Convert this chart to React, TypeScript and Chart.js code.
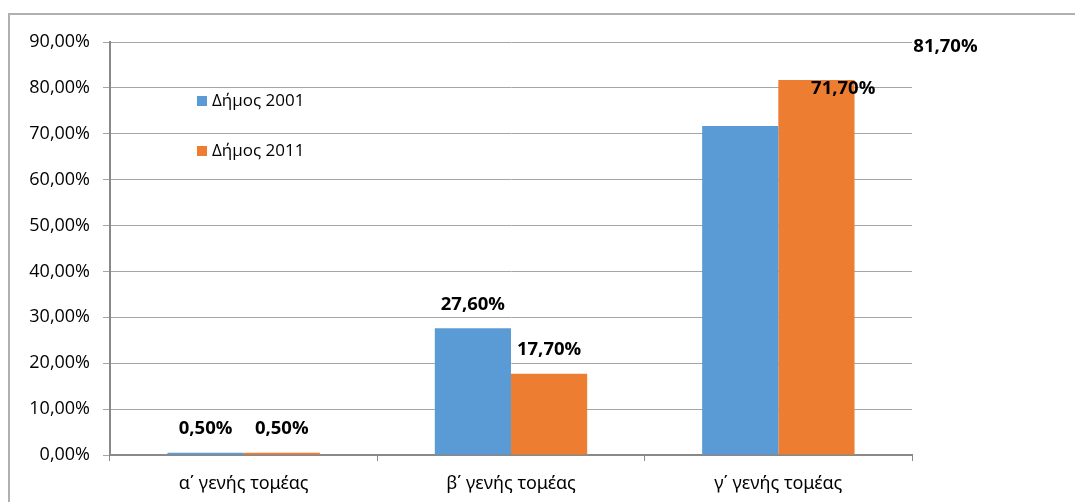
import React, { useEffect, useRef } from "react";
import { Chart, registerables } from "chart.js";

Chart.register(...registerables);

const categories = ["α΄ γενής τομέας", "β΄ γενής τομέας", "γ΄ γενής τομέας"];
const seriesNames = ["Δήμος 2001", "Δήμος 2011"];
const values2001 = [0.5, 27.6, 71.7];
const values2011 = [0.5, 17.7, 81.7];
const yTicks = [0, 10, 20, 30, 40, 50, 60, 70, 80, 90];

const colors = ["#5B9BD5", "#ED7D31"];
const FONT = "'Open Sans', 'Noto Sans', sans-serif";
const XFONT = "'Noto Sans', sans-serif";

const fmt = (v: number) => v.toFixed(2).replace(".", ",") + "%";

// label displacement (Excel manually moved labels) per dataset/index
const labelShift: Record<string, [number, number]> = {
  "0-2": [103, -13],
  "1-2": [129, -9],
};

const dataLabelsPlugin = {
  id: "dataLabels",
  afterDatasetsDraw(chart: any) {
    const ctx = chart.ctx;
    ctx.save();
    ctx.font = `bold 18.5px ${FONT}`;
    ctx.fillStyle = "#000";
    ctx.textAlign = "center";
    ctx.textBaseline = "middle";
    chart.data.datasets.forEach((ds: any, di: number) => {
      const meta = chart.getDatasetMeta(di);
      meta.data.forEach((bar: any, i: number) => {
        const sh = labelShift[`${di}-${i}`] || [0, 0];
        ctx.fillText(fmt(ds.data[i]), bar.x + sh[0], bar.y - 24 + sh[1]);
      });
    });
    ctx.restore();
  },
};

const legendPlugin = {
  id: "insideLegend",
  afterDraw(chart: any) {
    const ctx = chart.ctx;
    const a = chart.chartArea;
    ctx.save();
    ctx.font = `17px ${FONT}`;
    ctx.textBaseline = "middle";
    ctx.textAlign = "left";
    chart.data.datasets.forEach((ds: any, i: number) => {
      const cy = a.top + 59 + i * 50;
      ctx.fillStyle = ds.backgroundColor;
      ctx.fillRect(a.left + 87, cy - 5, 10, 10);
      ctx.fillStyle = "#000";
      ctx.fillText(ds.label, a.left + 102, cy);
    });
    ctx.restore();
  },
};

export default function App() {
  const ref = useRef<HTMLCanvasElement>(null);
  useEffect(() => {
    if (!ref.current) return;
    const chart = new Chart(ref.current, {
      type: "bar",
      data: {
        labels: categories,
        datasets: [
          { label: seriesNames[0], data: values2001, backgroundColor: colors[0], barPercentage: 1, categoryPercentage: 0.57 },
          { label: seriesNames[1], data: values2011, backgroundColor: colors[1], barPercentage: 1, categoryPercentage: 0.57 },
        ],
      },
      options: {
        animation: false,
        responsive: false,
        devicePixelRatio: 1,
        layout: { padding: { left: 0, right: 163, top: 42, bottom: 0 } },
        plugins: { legend: { display: false }, tooltip: { enabled: false } },
        scales: {
          x: {
            type: "category",
            grid: { display: true, drawOnChartArea: false, drawTicks: true, tickLength: 6, offset: true, color: "#898989" },
            border: { color: "#898989", width: 2 },
            ticks: { font: { family: XFONT, size: 18 }, color: "#000", padding: 12 },
            afterFit: (s: any) => { s.height = 47; },
          },
          y: {
            min: 0,
            max: 90,
            afterBuildTicks: (s: any) => { s.ticks = yTicks.map((v) => ({ value: v })); },
            grid: { color: "#a6a6a6", lineWidth: 1, tickLength: 7 },
            border: { color: "#898989", width: 2 },
            ticks: { font: { family: FONT, size: 18 }, color: "#000", padding: 13, callback: (v: any) => fmt(Number(v)) },
            afterFit: (s: any) => { s.width = 110; },
          },
        },
      },
      plugins: [dataLabelsPlugin, legendPlugin],
    });
    return () => chart.destroy();
  }, []);
  return (
    <>
      <div
        style={{
          position: "fixed",
          left: 8,
          top: 13,
          width: 1067,
          height: 489,
          boxSizing: "border-box",
          borderLeft: "2px solid #b0b0b0",
          borderTop: "2px solid #b0b0b0",
        }}
      />
      <canvas ref={ref} width={1075} height={502} style={{ position: "fixed", left: 0, top: 0, width: 1075, height: 502 }} />
    </>
  );
}
